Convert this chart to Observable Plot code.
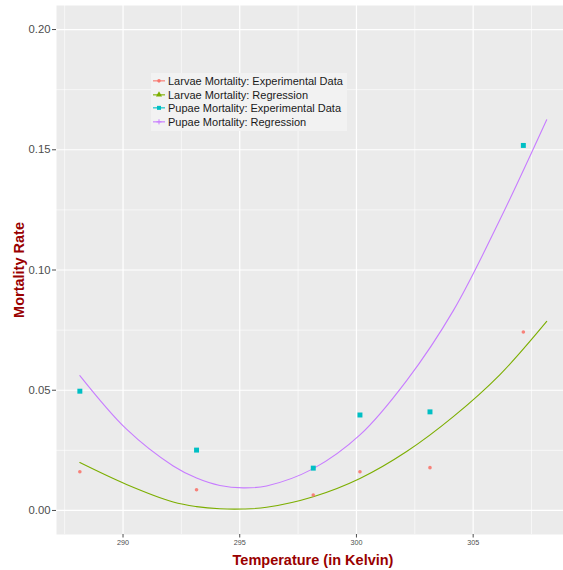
<!DOCTYPE html>
<html>
<head>
<meta charset="utf-8">
<script src="https://cdn.jsdelivr.net/npm/d3@7"></script>
<script src="https://cdn.jsdelivr.net/npm/@observablehq/plot@0.6"></script>
<style>
  body { margin: 0; background: white; }
  #wrap { position: relative; width: 563px; height: 570px; font-family: "Liberation Sans", Arial, Helvetica, sans-serif; }
  #legend { position: absolute; left: 151px; top: 73px; background: #F2F2F2; padding: 1px 4px 2px 1px; }
  .row { display: flex; align-items: center; height: 13.7px; font-size: 11px; color: #1A1A1A; white-space: nowrap; }
  .row svg { margin-right: 2px; flex: none; }
</style>
</head>
<body>
<div id="wrap"></div>
<script>
// Experimental data (temperature in Kelvin)
const temps = [288.15, 293.15, 298.15, 300.15, 303.15, 307.15];
const larvaeExp = [0.0161, 0.0086, 0.0064, 0.0161, 0.0178, 0.0742];
const pupaeExp = [0.0496, 0.0251, 0.0176, 0.0397, 0.0410, 0.1518];

// Regression curves
const curveTemps = [288.15, 290.15, 292.15, 293.15, 294.15, 295.15, 296.15, 298.15, 300.15, 302.15, 304.15, 306.15, 308.15];
const larvaeReg = [0.0199, 0.0108, 0.0035, 0.0016, 0.0007, 0.0006, 0.0013, 0.0057, 0.0133, 0.0245, 0.0390, 0.0565, 0.0786];
const pupaeReg  = [0.0561, 0.0338, 0.0185, 0.0135, 0.0104, 0.0094, 0.0102, 0.0174, 0.0314, 0.0540, 0.0831, 0.1210, 0.1625];

// Series
const seriesNames = ["Larvae Mortality: Experimental Data", "Larvae Mortality: Regression", "Pupae Mortality: Experimental Data", "Pupae Mortality: Regression"];
const seriesColors = ["#F8766D", "#7CAE00", "#00BFC4", "#C77CFF"];
const seriesShapes = ["circle", "triangle", "square", "plus"];

// Ticks
const xMajor = [290, 295, 300, 305];
const xMinor = [287.5, 292.5, 297.5, 302.5, 307.5];
const yMajor = [0, 0.05, 0.10, 0.15, 0.20];
const yMinor = [0.025, 0.075, 0.125, 0.175];

const xTitle = "Temperature (in Kelvin)";
const yTitle = "Mortality Rate";

const larvaePts = temps.map((t, i) => ({t, v: larvaeExp[i]}));
const pupaePts = temps.map((t, i) => ({t, v: pupaeExp[i]}));
const larvaeLine = curveTemps.map((t, i) => ({t, v: larvaeReg[i]}));
const pupaeLine = curveTemps.map((t, i) => ({t, v: pupaeReg[i]}));

const font = "'Liberation Sans', Arial, Helvetica, sans-serif";
const titleColor = "#990000";

const chart = Plot.plot({
  width: 563,
  height: 570,
  marginLeft: 56,
  marginRight: 0,
  marginTop: 5,
  marginBottom: 36,
  x: {domain: [287.15, 308.87]},
  y: {domain: [-0.01, 0.21]},
  style: {fontFamily: font, background: "white"},
  marks: [
    Plot.frame({fill: "#EBEBEB", stroke: null}),
    Plot.gridX(xMinor, {stroke: "white", strokeOpacity: 1, strokeWidth: 0.6}),
    Plot.gridY(yMinor, {stroke: "white", strokeOpacity: 1, strokeWidth: 0.6}),
    Plot.gridX(xMajor, {stroke: "white", strokeOpacity: 1, strokeWidth: 1.2}),
    Plot.gridY(yMajor, {stroke: "white", strokeOpacity: 1, strokeWidth: 1.2}),
    Plot.axisX(xMajor, {tickSize: 3.5, tickPadding: 2, fontSize: 7.2, color: "#4D4D4D", label: null, tickFormat: d => String(d)}),
    Plot.axisY(yMajor, {tickSize: 4, tickPadding: 2, fontSize: 11.3, color: "#4D4D4D", label: null, tickFormat: d => d.toFixed(2)}),
    Plot.line(larvaeLine, {x: "t", y: "v", stroke: seriesColors[1], strokeWidth: 1.1, curve: "catmull-rom"}),
    Plot.line(pupaeLine, {x: "t", y: "v", stroke: seriesColors[3], strokeWidth: 1.1, curve: "catmull-rom"}),
    Plot.dot(larvaePts, {x: "t", y: "v", r: 1.8, fill: seriesColors[0], stroke: null, fillOpacity: 0.9}),
    Plot.dot(pupaePts, {x: "t", y: "v", r: 2.8, symbol: "square", fill: seriesColors[2], stroke: null}),
    Plot.text([xTitle], {frameAnchor: "bottom", dy: 26, dx: 3, textAnchor: "middle", lineAnchor: "middle", fontSize: 14.5, fontWeight: "bold", fill: titleColor}),
    Plot.text([yTitle], {frameAnchor: "left", dx: -37, rotate: -90, textAnchor: "middle", lineAnchor: "middle", fontSize: 14.5, fontWeight: "bold", fill: titleColor})
  ]
});

const wrap = document.getElementById("wrap");
wrap.appendChild(chart);

// Legend (inside the panel, as in the reference)
const legend = document.createElement("div");
legend.id = "legend";
seriesNames.forEach((name, i) => {
  const row = document.createElement("div");
  row.className = "row";
  const svg = d3.create("svg").attr("width", 14).attr("height", 13.7);
  svg.append("line").attr("x1", 1).attr("x2", 13).attr("y1", 6.85).attr("y2", 6.85)
    .attr("stroke", seriesColors[i]).attr("stroke-width", 1.1);
  const symType = {circle: d3.symbolCircle, triangle: d3.symbolTriangle, square: d3.symbolSquare}[seriesShapes[i]];
  if (seriesShapes[i] === "plus") {
    svg.append("path").attr("d", "M7,4.3V9.4M4.5,6.85H9.5")
      .attr("stroke", seriesColors[i]).attr("stroke-width", 1).attr("fill", "none");
  } else {
    svg.append("path").attr("d", d3.symbol(symType, seriesShapes[i] === "circle" ? 10 : 16)())
      .attr("transform", "translate(7,6.85)").attr("fill", seriesColors[i]);
  }
  row.appendChild(svg.node());
  const span = document.createElement("span");
  span.textContent = name;
  row.appendChild(span);
  legend.appendChild(row);
});
wrap.appendChild(legend);
</script>
</body>
</html>
